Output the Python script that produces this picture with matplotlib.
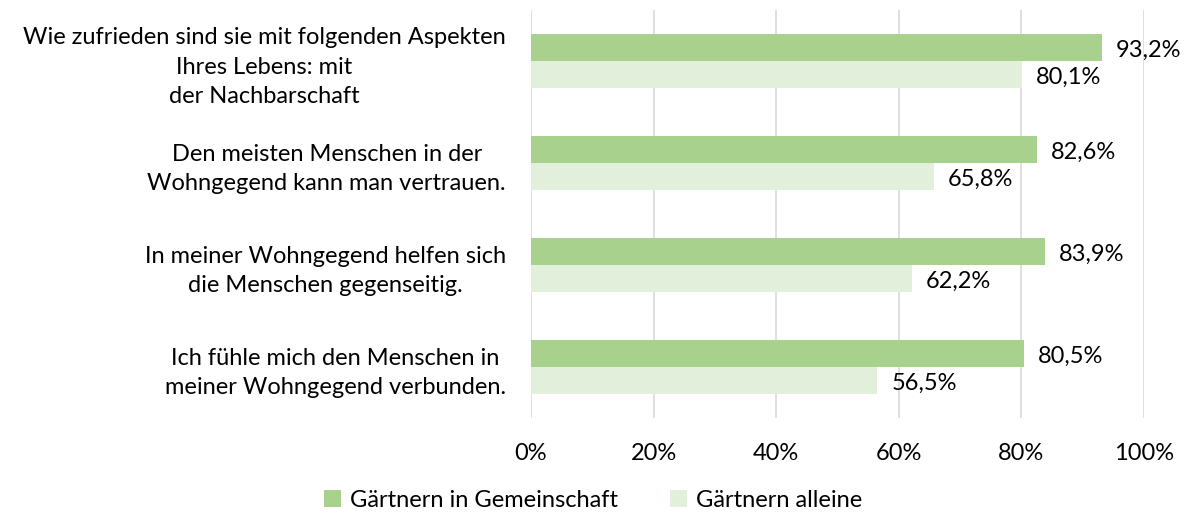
import matplotlib
matplotlib.use("Agg")
import matplotlib.pyplot as plt
import numpy as np
from matplotlib.ticker import FuncFormatter

plt.rcParams['font.family'] = ['Lato', 'DejaVu Sans']

categories = [
    "Wie zufrieden sind sie mit folgenden Aspekten\nIhres Lebens: mit\nder Nachbarschaft",
    "Den meisten Menschen in der\nWohngegend kann man vertrauen.",
    "In meiner Wohngegend helfen sich\ndie Menschen gegenseitig.",
    "Ich fühle mich den Menschen in\nmeiner Wohngegend verbunden.",
]
gemeinschaft = [93.2, 82.6, 83.9, 80.5]
alleine = [80.1, 65.8, 62.2, 56.5]
series_names = ["Gärtnern in Gemeinschaft", "Gärtnern alleine"]
xticks = [0, 20, 40, 60, 80, 100]

c_dark = "#A9D18E"
c_light = "#E2EFDA"
FS = 17

fig = plt.figure(figsize=(11.87, 5.14), dpi=100)
ax = fig.add_axes([531 / 1187, 1 - 418 / 514, (1144 - 531) / 1187, 408 / 514])

y = np.arange(len(categories))
h = 0.26
b1 = ax.barh(y - h / 2, gemeinschaft, height=h, color=c_dark, label=series_names[0], zorder=2)
b2 = ax.barh(y + h / 2, alleine, height=h, color=c_light, label=series_names[1], zorder=2)

fmt = lambda v: f"{v:.1f}%".replace(".", ",")
for bars, vals in ((b1, gemeinschaft), (b2, alleine)):
    for rect, v in zip(bars, vals):
        ax.annotate(fmt(v), (v, rect.get_y() + rect.get_height() / 2),
                    xytext=(10, -2), textcoords="offset points",
                    ha="left", va="center", fontsize=FS, color="black")

ax.set_xlim(0, 100)
ax.set_ylim(len(categories) - 0.5, -0.5)
ax.set_xticks(xticks)
ax.xaxis.set_major_formatter(FuncFormatter(lambda v, p: f"{int(v)}%"))
ax.set_yticks(y)
ax.set_yticklabels(categories, multialignment="center", fontsize=FS, linespacing=1.5)
ax.tick_params(axis="y", length=0, pad=18)
ax.tick_params(axis="x", length=0, pad=18, labelsize=FS)
ax.grid(axis="x", color="#D9D9D9", linewidth=1.2, zorder=0)
for s in ax.spines.values():
    s.set_visible(False)

fig.legend(handles=[b1, b2], loc="lower center", bbox_to_anchor=(0.5, -0.035), ncol=2,
           frameon=False, fontsize=FS, handlelength=0.7, handleheight=0.7,
           handletextpad=0.4, columnspacing=2.2)

fig.savefig("out.png", dpi=100)
